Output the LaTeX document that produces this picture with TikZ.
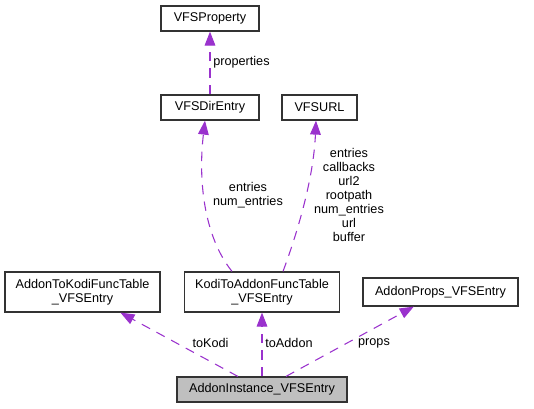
\documentclass[tikz,border=0pt]{standalone}
\usepackage{fontspec}
\setmainfont{Liberation Sans}
\usetikzlibrary{arrows.meta,calc}
\definecolor{edgepurple}{HTML}{9A32CD}
\definecolor{boxborder}{HTML}{333333}
\definecolor{boxgray}{HTML}{BFBFBF}
\begin{document}
\begin{tikzpicture}[x=0.75pt,y=-0.75pt,
  font=\fontsize{9.5}{10.5}\selectfont,
  cls/.style={draw=boxborder,line width=0.9pt,fill=white,inner sep=0pt,align=center,minimum height=18.75pt},
  cls2/.style={cls,minimum height=30pt},
  dep/.style={draw=edgepurple,line width=0.8pt,dash pattern=on 7pt off 5.5pt,
    -{Triangle[length=10.5pt,width=8pt,fill=edgepurple,sep=0pt]},shorten >=0pt},
  lbl/.style={inner sep=0pt,align=center,text=black}]
\useasboundingbox (0,0) rectangle (534,408);
\node[cls,minimum width=73.5pt] (prop) at (210,18.5) {VFSProperty};
\node[cls,minimum width=73.5pt] (dir) at (210,107.5) {VFSDirEntry};
\node[cls,minimum width=56.25pt] (url) at (319.5,107.5) {VFSURL};
\node[cls2,minimum width=116.25pt] (a2k) at (82.5,292) {AddonToKodiFuncTable\\\_VFSEntry};
\node[cls2,minimum width=116.25pt] (k2a) at (262,292) {KodiToAddonFuncTable\\\_VFSEntry};
\node[cls,minimum width=116.25pt,minimum height=21pt] (props) at (440.5,292) {AddonProps\_VFSEntry};
\node[cls,fill=boxgray,minimum width=127.5pt] (inst) at (262,389.5) {AddonInstance\_VFSEntry};

\draw[dep] (dir) -- (prop);
\node[lbl,anchor=west] (lprop) at (213,62) {properties};

\draw[dep] ($(k2a.north)+(-30,0)$) .. controls ($(k2a.north)+(-58,-35)$) and ($(dir.south)+(-12,60)$) .. ($(dir.south)+(-5,0)$);
\node[lbl] (ldir) at (248,195) {entries\\num\_entries};

\draw[dep] ($(k2a.north)+(21,0)$) .. controls ($(k2a.north)+(34,-35)$) and ($(url.south)+(-6,60)$) .. ($(url.south)+(-3.5,0)$);
\node[lbl] (lurl) at (349,195) {entries\\callbacks\\url2\\rootpath\\num\_entries\\url\\buffer};

\draw[dep] (inst) -- (a2k);
\node[lbl] (lk) at (210.5,343) {toKodi};
\draw[dep] (inst) -- (k2a);
\node[lbl] (la) at (289,343) {toAddon};
\draw[dep] (inst) -- (props);
\node[lbl] (lp) at (374,343) {props};
\end{tikzpicture}
\end{document}
